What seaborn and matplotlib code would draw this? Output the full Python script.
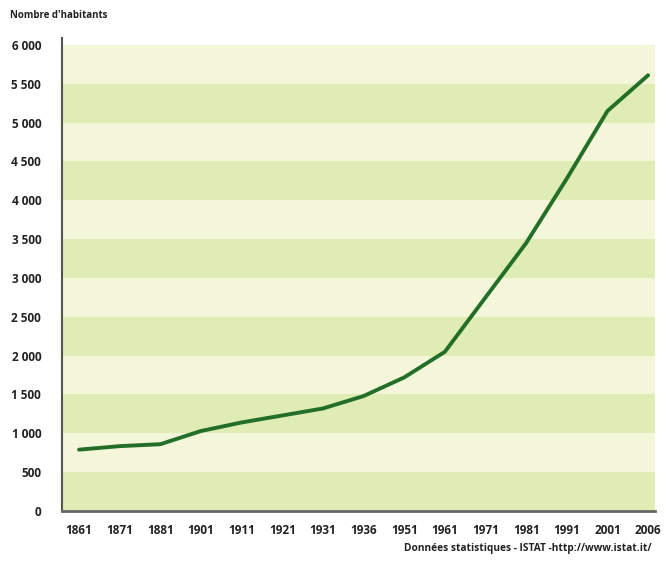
import matplotlib
matplotlib.use("Agg")
import matplotlib.pyplot as plt
import seaborn as sns
import pandas as pd

years = ["1861", "1871", "1881", "1901", "1911", "1921", "1931", "1936",
         "1951", "1961", "1971", "1981", "1991", "2001", "2006"]
population = [790, 835, 860, 1030, 1140, 1230, 1320, 1480,
              1720, 2050, 2750, 3450, 4280, 5150, 5610]
y_ticks = [0, 500, 1000, 1500, 2000, 2500, 3000, 3500, 4000, 4500, 5000, 5500, 6000]

df = pd.DataFrame({"year": years, "population": population})

sns.set_style("white")
plt.rcParams["font.family"] = ["Open Sans", "DejaVu Sans"]

fig = plt.figure(figsize=(6.66, 5.61), dpi=100)
ax = fig.add_axes([62 / 666, 1 - 511 / 561, (655 - 62) / 666, (511 - 38) / 561])

# alternating background bands
band_dark = "#dfecb3"
band_light = "#f4f6d9"
for i in range(len(y_ticks) - 1):
    color = band_dark if i % 2 == 0 else band_light
    ax.axhspan(y_ticks[i], y_ticks[i + 1], color=color, lw=0, zorder=0)

sns.lineplot(data=df, x="year", y="population", ax=ax, color="#236f29",
             linewidth=2.8, sort=False, zorder=3)

ax.set_xlim(-0.42, len(years) - 1 + 0.17)
ax.set_ylim(0, 6090)
ax.set_yticks(y_ticks)
ax.set_yticklabels([f"{v:,}".replace(",", " ") for v in y_ticks],
                   fontsize=8.5, fontweight="bold", color="#222222")
ax.set_xticks(range(len(years)))
ax.set_xticklabels(years, fontsize=8.5, fontweight="bold", color="#222222")
ax.tick_params(axis="x", length=3, color="#aaaaaa", pad=6)
ax.tick_params(axis="y", length=0, pad=15)
ax.set_xlabel("")
ax.set_ylabel("")

for side in ["top", "right"]:
    ax.spines[side].set_visible(False)
ax.spines["left"].set_color("#555555")
ax.spines["left"].set_linewidth(1.5)
ax.spines["bottom"].set_color("#666666")
ax.spines["bottom"].set_linewidth(2)

fig.text(10 / 666, 1 - 16 / 561, "Nombre d'habitants", fontsize=7,
         fontweight="bold", color="#222222", va="center", ha="left")
fig.text(652 / 666, 1 - 548 / 561, "Données statistiques - ISTAT -http://www.istat.it/",
         fontsize=7.3, fontweight="bold", color="#222222", va="center", ha="right")

fig.savefig("out.png", dpi=100)
